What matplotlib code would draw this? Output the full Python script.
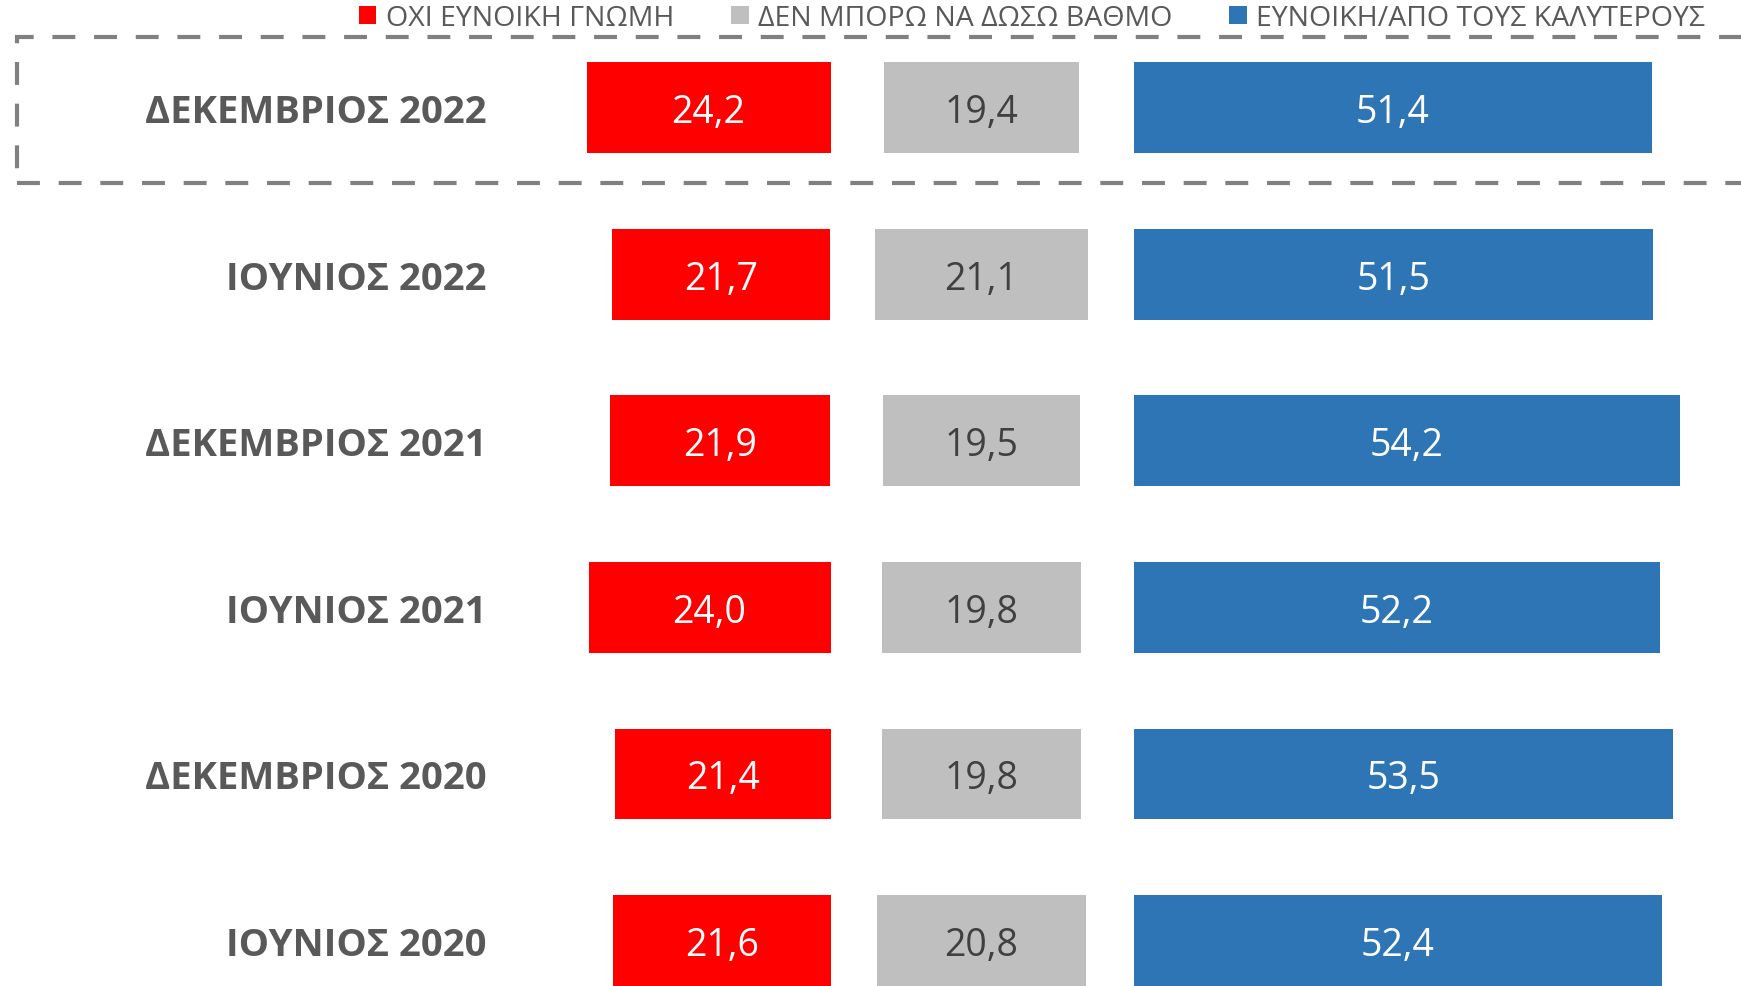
import numpy as np
import matplotlib.pyplot as plt
from matplotlib.patches import Rectangle

periods = ["ΔΕΚΕΜΒΡΙΟΣ 2022", "ΙΟΥΝΙΟΣ 2022", "ΔΕΚΕΜΒΡΙΟΣ 2021",
           "ΙΟΥΝΙΟΣ 2021", "ΔΕΚΕΜΒΡΙΟΣ 2020", "ΙΟΥΝΙΟΣ 2020"]
unfavourable = [24.2, 21.7, 21.9, 24.0, 21.4, 21.6]
no_grade = [19.4, 21.1, 19.5, 19.8, 19.8, 20.8]
favourable = [51.4, 51.5, 54.2, 52.2, 53.5, 52.4]
series_names = ["ΟΧΙ ΕΥΝΟΙΚΗ ΓΝΩΜΗ", "ΔΕΝ ΜΠΟΡΩ ΝΑ ΔΩΣΩ ΒΑΘΜΟ",
                "ΕΥΝΟΙΚΗ/ΑΠΟ ΤΟΥΣ ΚΑΛΥΤΕΡΟΥΣ"]
colors = ["#FF0000", "#BFBFBF", "#2E75B6"]

plt.rcParams["font.family"] = ["Open Sans", "DejaVu Sans"]

W, H = 1741, 987
px_per_unit = 10.08      # horizontal pixels per percentage point
row_px = 166.55          # vertical pixels between rows
first_row_px = 108.8

# anchors of the three blocks (in value units)
red_end = 830.5 / px_per_unit
grey_mid = 981.5 / px_per_unit
blue_start = 1133.6 / px_per_unit
label_x = 487 / px_per_unit


def fmt(v):
    return f"{v:.1f}".replace(".", ",")


fig = plt.figure(figsize=(W / 100, H / 100), dpi=100)
ax = fig.add_axes([0, 0, 1, 1])
ax.set_xlim(0, W / px_per_unit)
ax.set_ylim((H - first_row_px) / row_px, -first_row_px / row_px)
ax.axis("off")

y = np.arange(len(periods))
h = 91 / row_px

b1 = ax.barh(y, unfavourable, left=[red_end - v for v in unfavourable],
             height=h, color=colors[0], label=series_names[0])
b2 = ax.barh(y, no_grade, left=[grey_mid - v / 2 for v in no_grade],
             height=h, color=colors[1], label=series_names[1])
b3 = ax.barh(y, favourable, left=blue_start,
             height=h, color=colors[2], label=series_names[2])

for bars, vals, col in [(b1, unfavourable, "white"), (b2, no_grade, "#404040"),
                        (b3, favourable, "white")]:
    for t in ax.bar_label(bars, labels=[fmt(v) for v in vals],
                          label_type="center", color=col, fontsize=27):
        t.set_va("center_baseline")

for yi, name in zip(y, periods):
    ax.text(label_x, yi, name, ha="right", va="center_baseline", fontsize=27.5,
            fontweight="bold", color="#595959")

# dashed frame around the latest wave
fig.patches.append(Rectangle((17 / W, 1 - 184 / H), 1.0, (184 - 38) / H,
                             transform=fig.transFigure, fill=False,
                             edgecolor="#808080", linewidth=3,
                             linestyle=(0, (5.5, 4.5)), clip_on=False))

leg = fig.legend(handles=[b1, b2, b3], loc="center", ncol=3,
                 bbox_to_anchor=(1032 / W, 1 - 19 / H), frameon=False,
                 fontsize=20.5, handlelength=0.62, handleheight=0.62,
                 handletextpad=0.33, columnspacing=2.0, borderpad=0)
for t in leg.get_texts():
    t.set_color("#595959")

fig.savefig("out.png", dpi=100)
